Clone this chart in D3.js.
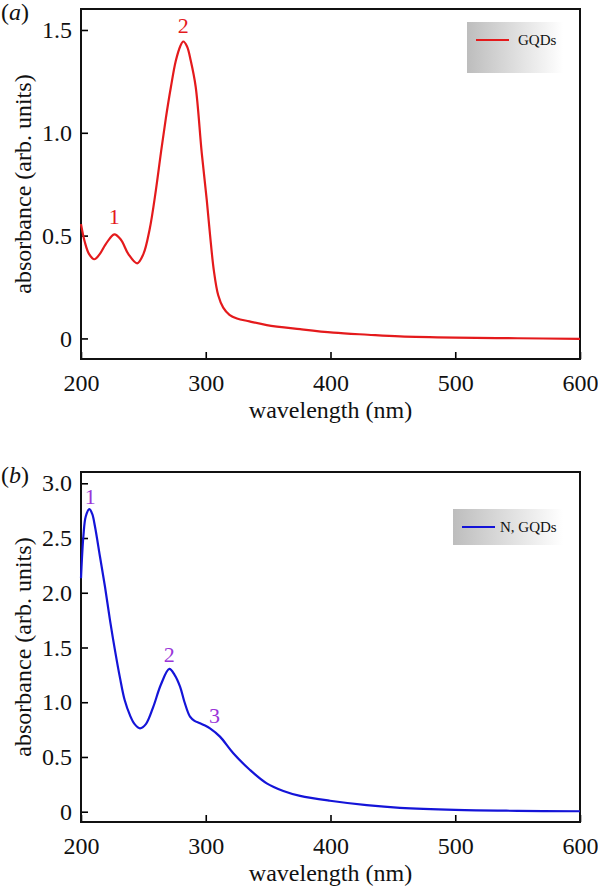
<!DOCTYPE html>
<html>
<head>
<meta charset="utf-8">
<script src="https://cdn.jsdelivr.net/npm/d3@7"></script>
<style>
  html, body { margin: 0; padding: 0; background: #fff; }
  svg { display: block; }
  svg text { font-family: "Liberation Serif", "Tinos", "Times New Roman", "Nimbus Roman", "DejaVu Serif", serif; }
</style>
</head>
<body>
<svg id="chart" width="598" height="888"></svg>
<script>
// ---------- DATA ----------
const xTicks = [200, 300, 400, 500, 600];
const yTicksA = [0, 0.5, 1.0, 1.5];
const yTicksB = [0, 0.5, 1.0, 1.5, 2.0, 2.5, 3.0];

// Panel (a): GQDs
const wavelengthA = [200, 203, 206.5, 210.7, 215, 220, 226.7, 232, 238, 245, 250, 255, 260, 264, 268, 272, 276, 279.5, 282, 285, 288, 291.9, 296.8, 300.8, 303.5, 306.5, 310, 314, 319, 325, 335, 348.9, 375.6, 402.3, 430, 455.7, 500, 550, 600];
const absorbA =     [0.556, 0.47, 0.41, 0.385, 0.41, 0.46, 0.506, 0.48, 0.41, 0.365, 0.41, 0.53, 0.72, 0.90, 1.07, 1.22, 1.35, 1.42, 1.444, 1.42, 1.35, 1.225, 0.901, 0.674, 0.50, 0.33, 0.21, 0.15, 0.115, 0.097, 0.083, 0.065, 0.045, 0.028, 0.018, 0.010, 0.004, 0.001, -0.002];

// Panel (b): N, GQDs
const wavelengthB = [200, 201.9, 203.8, 206.7, 209, 211.2, 215.2, 219.2, 223.2, 227, 231.3, 235, 239.3, 243, 247.3, 252, 258, 264, 270.8, 275, 279.4, 283, 287.4, 291, 295.4, 299, 303.4, 311.4, 322.1, 335.5, 348.9, 362.2, 375.6, 399.6, 429, 455.7, 500, 550, 600];
const absorbB =     [2.133, 2.514, 2.697, 2.764, 2.72, 2.605, 2.331, 2.057, 1.752, 1.49, 1.22, 1.02, 0.88, 0.80, 0.762, 0.80, 0.960, 1.16, 1.304, 1.25, 1.143, 1.00, 0.868, 0.83, 0.808, 0.79, 0.762, 0.686, 0.534, 0.381, 0.259, 0.19, 0.145, 0.10, 0.06, 0.035, 0.016, 0.008, 0.004];

const peakLabelsA = [{ t: "1", x: 226.7, y: 0.506 }, { t: "2", x: 282, y: 1.444 }];
const peakLabelsB = [{ t: "1", x: 207.5, y: 2.764 }, { t: "2", x: 270.8, y: 1.304 }, { t: "3", x: 307, y: 0.762 }];

// ---------- DRAW ----------
const svg = d3.select("#chart");
const FONT = '"Liberation Serif", "Tinos", "Times New Roman", "Nimbus Roman", "DejaVu Serif", serif';

function panel(opts) {
  const { top, bottom, yDomain, yTicks, xs, ys, color, labelColor, peaks, legendText, legend, panelLabel, labelOffsets } = opts;
  const left = 81, right = 580;
  const x = d3.scaleLinear().domain([200, 600]).range([left, right]);
  const y = d3.scaleLinear().domain(yDomain).range([bottom, top]);
  const g = svg.append("g").attr("font-family", FONT);

  // y axis (inward ticks)
  const yAx = g.append("g").attr("transform", `translate(${left},0)`)
    .call(d3.axisLeft(y).tickValues(yTicks).tickSizeInner(-7).tickSizeOuter(0).tickPadding(9)
      .tickFormat(d => d === 0 ? "0" : d.toFixed(1)));
  yAx.attr("font-family", FONT);
  yAx.select(".domain").remove();
  yAx.selectAll("line").attr("stroke", "#000").attr("stroke-width", 1.6);
  yAx.selectAll("text").attr("font-size", 24).attr("fill", "#111");

  // x axis
  const xAx = g.append("g").attr("transform", `translate(0,${bottom})`)
    .call(d3.axisBottom(x).tickValues(xTicks).tickSizeInner(-7).tickSizeOuter(0).tickPadding(15)
      .tickFormat(d3.format("d")));
  xAx.attr("font-family", FONT);
  xAx.select(".domain").remove();
  xAx.selectAll("line").attr("stroke", "#000").attr("stroke-width", 1.6);
  xAx.selectAll("text").attr("font-size", 24).attr("fill", "#111");

  // frame
  g.append("rect").attr("x", left).attr("y", top).attr("width", right - left).attr("height", bottom - top)
    .attr("fill", "none").attr("stroke", "#111").attr("stroke-width", 2);

  // curve
  const data = xs.map((v, i) => [v, ys[i]]);
  g.append("path").datum(data)
    .attr("fill", "none").attr("stroke", color).attr("stroke-width", 2.2)
    .attr("d", d3.line().x(d => x(d[0])).y(d => y(d[1])).curve(d3.curveCatmullRom.alpha(0.5)));

  // peak labels
  peaks.forEach((p, i) => {
    g.append("text").attr("x", x(p.x)).attr("y", y(p.y) + labelOffsets[i])
      .attr("text-anchor", "middle").attr("font-size", 22).attr("fill", labelColor).text(p.t);
  });

  // axis titles
  g.append("text").attr("x", (left + right) / 2).attr("y", bottom + 59)
    .attr("text-anchor", "middle").attr("font-size", 24).attr("fill", "#111").text("wavelength (nm)");
  g.append("text").attr("transform", `translate(31,${(top + bottom) / 2}) rotate(-90)`)
    .attr("text-anchor", "middle").attr("font-size", 24).attr("fill", "#111").text("absorbance (arb. units)");

  // panel label
  const pl = g.append("text").attr("x", 1).attr("y", top + 11).attr("font-size", 24).attr("fill", "#111");
  pl.append("tspan").text("(");
  pl.append("tspan").attr("font-style", "italic").text(panelLabel);
  pl.append("tspan").text(")");

  // legend
  const gid = "grad" + panelLabel;
  const grad = svg.append("defs").append("linearGradient").attr("id", gid)
    .attr("x1", "0%").attr("x2", "100%").attr("y1", "0%").attr("y2", "0%");
  grad.append("stop").attr("offset", "0%").attr("stop-color", "#bdbdbd");
  grad.append("stop").attr("offset", "100%").attr("stop-color", "#ffffff");
  g.append("rect").attr("x", legend.x).attr("y", legend.y).attr("width", legend.w).attr("height", legend.h)
    .attr("fill", `url(#${gid})`);
  const ly = legend.y + legend.lineY;
  g.append("line").attr("x1", legend.x + legend.l1).attr("x2", legend.x + legend.l2)
    .attr("y1", ly).attr("y2", ly).attr("stroke", color).attr("stroke-width", 2.2);
  g.append("text").attr("x", legend.x + legend.tx).attr("y", ly + 5).attr("font-size", 15)
    .attr("fill", "#111").text(legendText);
}

panel({
  top: 9, bottom: 359, yDomain: [-0.1, 1.602], yTicks: yTicksA,
  xs: wavelengthA, ys: absorbA, color: "#e41a1c", labelColor: "#e41a1c",
  peaks: peakLabelsA, labelOffsets: [-10, -8], legendText: "GQDs", panelLabel: "a",
  legend: { x: 467, y: 22, w: 96, h: 51, lineY: 18, l1: 9, l2: 42, tx: 51 }
});

panel({
  top: 472, bottom: 822, yDomain: [-0.094, 3.103], yTicks: yTicksB,
  xs: wavelengthB, ys: absorbB, color: "#1414d8", labelColor: "#9a35d8",
  peaks: peakLabelsB, labelOffsets: [-5, -7, -5], legendText: "N, GQDs", panelLabel: "b",
  legend: { x: 453, y: 509, w: 110, h: 36, lineY: 18, l1: 9, l2: 42, tx: 47 }
});
</script>
</body>
</html>
